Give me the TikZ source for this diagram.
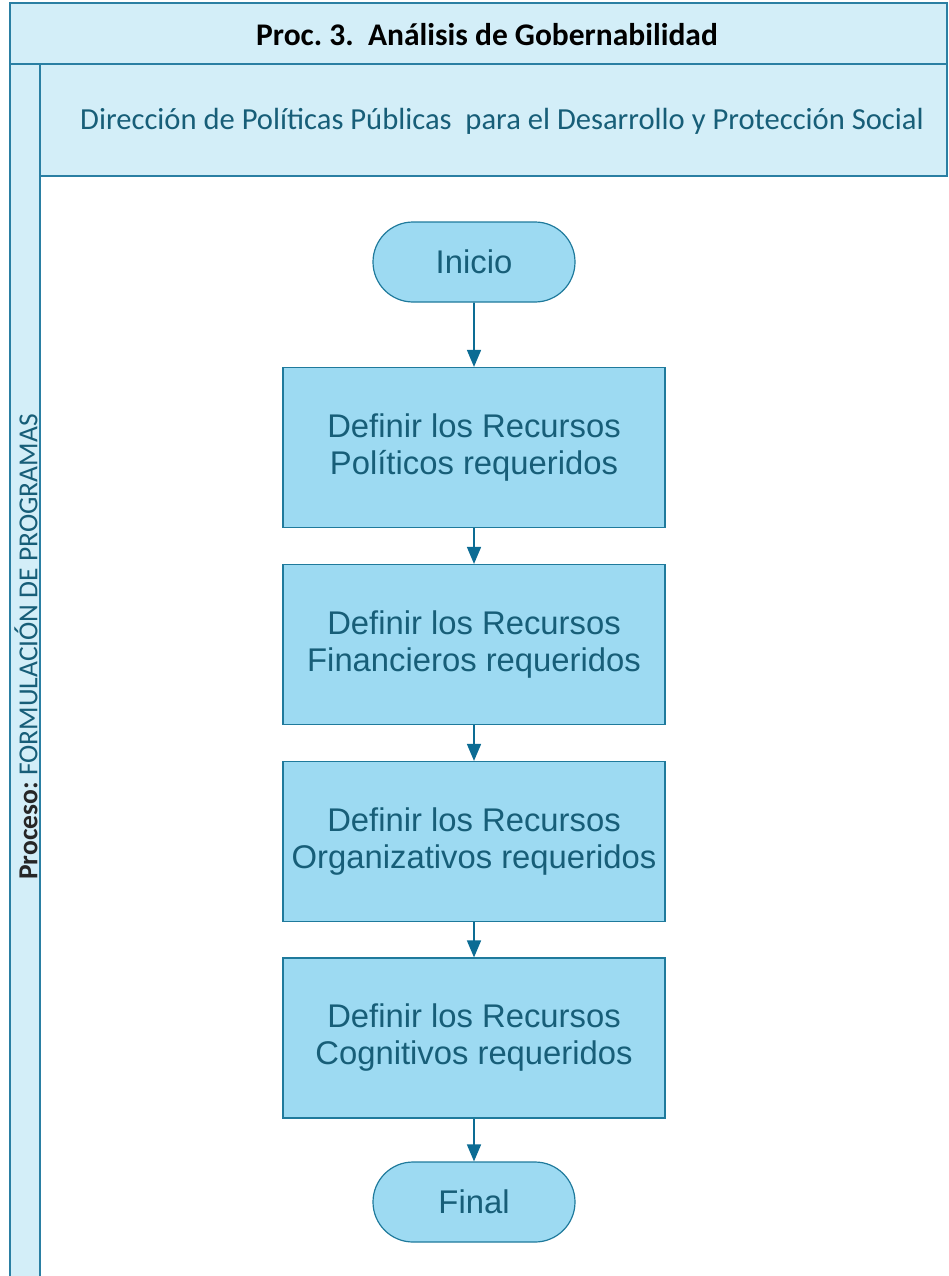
\documentclass[tikz,border=0pt]{standalone}
\usepackage{fontspec}
\setmainfont{Carlito}
\newfontfamily\arialf{Liberation Sans}
\usetikzlibrary{arrows.meta,shapes.misc}
\frenchspacing
\definecolor{bandfill}{HTML}{D3EEF8}
\definecolor{bandline}{HTML}{2A7FA3}
\definecolor{boxfill}{HTML}{9DDAF2}
\definecolor{boxline}{HTML}{1F7A9C}
\definecolor{arrowc}{HTML}{0C6C94}
\definecolor{txtc}{HTML}{175E78}
\begin{document}
\begin{tikzpicture}[x=1pt,y=-1pt,
  band/.style={draw=bandline,fill=bandfill,line width=1.4pt},
  procbox/.style={draw=boxline,fill=boxfill,line width=1.2pt,minimum width=382pt,minimum height=160pt,inner sep=0pt,align=center,text=txtc,font=\arialf\fontsize{32.8}{37}\selectfont},
  term/.style={draw=boxline,fill=boxfill,line width=1.2pt,rounded rectangle,minimum width=202pt,minimum height=80pt,inner sep=0pt,text=txtc,font=\arialf\fontsize{32.8}{37}\selectfont},
  flow/.style={draw=arrowc,line width=1.6pt,-{Triangle[length=17pt,width=14pt]}}]
\useasboundingbox (0,0) rectangle (949,1276);
\fill[white] (0,0) rectangle (949,1276);
% title band
\path[band] (10,3) rectangle (947,64);
\node (title) at (487,35) {\fontsize{31.5}{36}\selectfont\bfseries Proc. 3.\ \ Análisis de Gobernabilidad};
% subheader
\path[band] (40,64) rectangle (947,176);
\node[text=txtc] (sub) at (502,121) {\fontsize{30.6}{36}\selectfont Dirección de Políticas Públicas\ \ para el Desarrollo y Protección Social};
% lane
\path[band] (10,64) -- (10,1280) -- (40,1280) -- (40,64) -- cycle;
\node[rotate=90] (lane) at (26,647) {\fontsize{27.5}{32}\selectfont\textbf{\color{black!85}Proceso:} {\color{txtc}FORMULACIÓN DE PROGRAMAS}};
% nodes
\node[term] (ini) at (474,262) {Inicio};
\node[procbox] (b1) at (474,447.5) {Definir los Recursos\\Políticos requeridos};
\node[procbox] (b2) at (474,644.5) {Definir los Recursos\\Financieros requeridos};
\node[procbox] (b3) at (474,841.5) {Definir los Recursos\\Organizativos requeridos};
\node[procbox] (b4) at (474,1038) {Definir los Recursos\\Cognitivos requeridos};
\node[term] (fin) at (474,1202) {Final};
% connectors
\draw[flow] (ini) -- (b1);
\draw[flow] (b1) -- (b2);
\draw[flow] (b2) -- (b3);
\draw[flow] (b3) -- (b4);
\draw[flow] (b4) -- (fin);
\end{tikzpicture}
\end{document}
